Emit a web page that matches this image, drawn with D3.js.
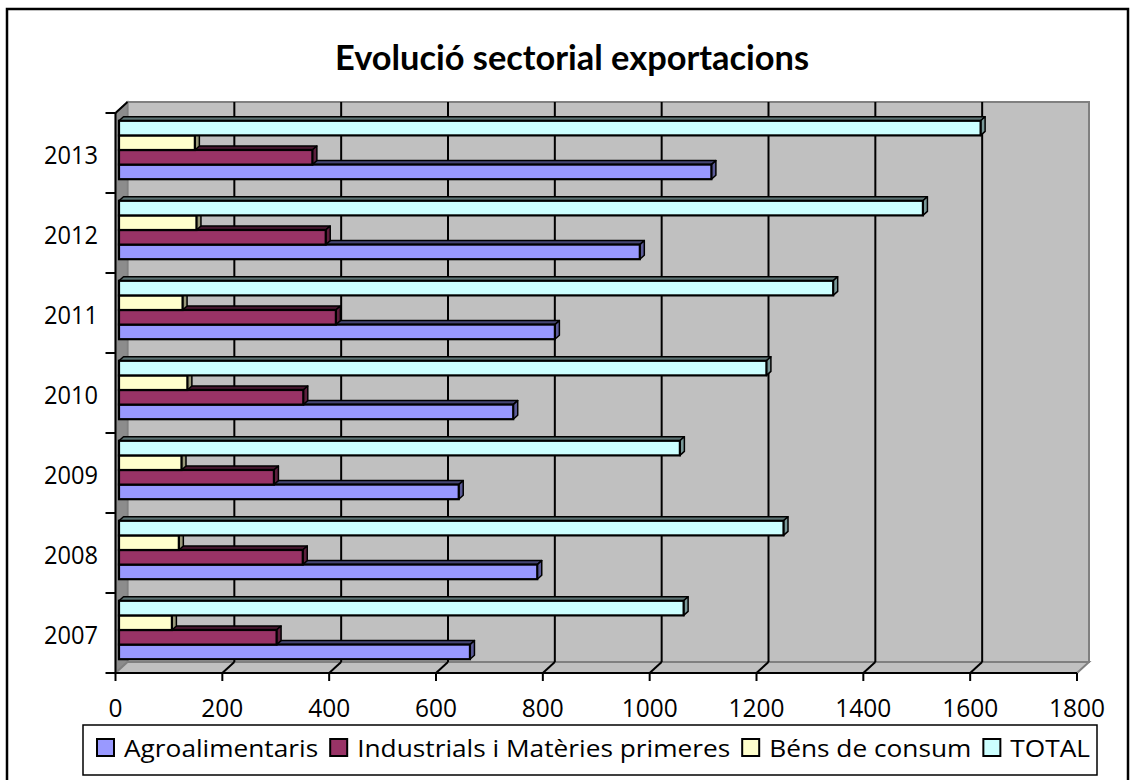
<!DOCTYPE html>
<html><head><meta charset="utf-8">
<script src="https://cdn.jsdelivr.net/npm/d3@7"></script>
<style>body{margin:0;background:#fff} svg{display:block} text{font-family:'Open Sans','Noto Sans',sans-serif;fill:#000} text.title{font-family:Lato,'Open Sans',sans-serif}</style>
</head><body><svg id="c" width="1132" height="780"></svg>
<script>
// ---- data ----
const years = ["2007","2008","2009","2010","2011","2012","2013"];
const seriesNames = ["Agroalimentaris","Industrials i Matèries primeres","Béns de consum","TOTAL"];
const agro        = [657, 783, 636, 738, 816, 975, 1109];
const industrials = [295, 344, 290, 345, 406, 387, 362];
const bens        = [ 99, 112, 117, 128, 119, 145, 142];
const total       = [1057,1244,1050,1212,1337,1505,1613];
const xTicks = [0,200,400,600,800,1000,1200,1400,1600,1800];
const titleText = "Evolució sectorial exportacions";
const seriesColors = ["#9999FF","#993366","#FFFFCC","#CCFFFF"];
const seriesValues = [agro, industrials, bens, total];

// ---- layout ----
const svg = d3.select("#c");
const front = {left:115.5, right:1077, top:113, bottom:673};
const D = {dx:12, dy:-11};       // wall depth
const B = {ox:3.5, oy:-3, dx:4.5, dy:-4}; // bar placement / depth

const x = d3.scaleLinear().domain([0,1800]).range([front.left, front.right]);
const y0 = d3.scaleBand().domain(years.slice().reverse()).range([front.top, front.bottom]).padding(0);
const y1 = d3.scaleBand().domain(seriesNames.slice().reverse()).range([0, y0.bandwidth()]).paddingInner(0).paddingOuter(0.74);

function fitW(sel, w){ sel.attr("textLength", w).attr("lengthAdjust","spacingAndGlyphs"); }

// outer frame
svg.append("rect").attr("x",7).attr("y",9).attr("width",1121).attr("height",790)
  .attr("fill","#fff").attr("stroke","#000").attr("stroke-width",2.5);

// title
const title = svg.append("text").attr("class","title").attr("x",572).attr("y",70).attr("text-anchor","middle")
  .attr("font-weight","bold").attr("font-size",35).text(titleText);
fitW(title, 474);

// walls
const bl = x(0)+D.dx, br = x(1800)+D.dx, bt = front.top+D.dy, bb = front.bottom+D.dy;
svg.append("rect").attr("x",bl).attr("y",bt).attr("width",br-bl).attr("height",bb-bt)
  .attr("fill","#C0C0C0").attr("stroke","#808080").attr("stroke-width",2);
svg.append("path").attr("d",`M${x(0)},${front.top}L${bl},${bt}L${bl},${bb}L${x(0)},${front.bottom}Z`)
  .attr("fill","#8C8C8C").attr("stroke","#808080").attr("stroke-width",1.5);
svg.append("path").attr("d",`M${x(0)},${front.bottom}L${bl},${bb}L${br},${bb}L${x(1800)},${front.bottom}Z`)
  .attr("fill","#C0C0C0").attr("stroke","#808080").attr("stroke-width",2);

// gridlines (back wall + floor)
const gt = xTicks.filter(t => t>0 && t<1800);
svg.append("g").selectAll("line").data(gt).join("line")
  .attr("x1",d=>x(d)+D.dx).attr("x2",d=>x(d)+D.dx).attr("y1",bt).attr("y2",bb)
  .attr("stroke","#000").attr("stroke-width",2);
svg.append("g").selectAll("line").data(gt).join("line")
  .attr("x1",d=>x(d)).attr("x2",d=>x(d)+D.dx).attr("y1",front.bottom).attr("y2",bb)
  .attr("stroke","#000").attr("stroke-width",2);

// axes lines
svg.append("line").attr("x1",x(0)).attr("x2",x(0)).attr("y1",front.top).attr("y2",front.bottom).attr("stroke","#000").attr("stroke-width",2);
svg.append("line").attr("x1",x(0)).attr("x2",bl).attr("y1",front.top).attr("y2",bt).attr("stroke","#000").attr("stroke-width",2);
svg.append("line").attr("x1",x(0)).attr("x2",x(1800)).attr("y1",front.bottom).attr("y2",front.bottom).attr("stroke","#000").attr("stroke-width",2);
svg.append("g").selectAll("line").data(xTicks).join("line")
  .attr("x1",d=>x(d)).attr("x2",d=>x(d)).attr("y1",front.bottom).attr("y2",front.bottom+8)
  .attr("stroke","#000").attr("stroke-width",2);
const yb = years.map(c=>y0(c)).concat([front.bottom]);
svg.append("g").selectAll("line").data(yb).join("line")
  .attr("x1",x(0)-10).attr("x2",x(0)).attr("y1",d=>d).attr("y2",d=>d)
  .attr("stroke","#000").attr("stroke-width",2);

// bars
function shade(c,k){const h=d3.rgb(c);return d3.rgb(h.r*k,h.g*k,h.b*k).toString();}
const barG = svg.append("g");
years.forEach((yr, yi) => {
  seriesNames.forEach((s, si) => {
    const v = seriesValues[si][yi];
    const x0 = x(0)+B.ox, x1 = x(v)+B.ox;
    const t = y0(yr)+y1(s)+B.oy, b = t+y1.bandwidth();
    const col = seriesColors[si];
    const g = barG.append("g");
    g.append("path").attr("d",`M${x0},${t}L${x0+B.dx},${t+B.dy}L${x1+B.dx},${t+B.dy}L${x1},${t}Z`)
      .attr("fill",shade(col,0.45)).attr("stroke","#000").attr("stroke-width",1.5).attr("stroke-linejoin","round");
    g.append("path").attr("d",`M${x1},${t}L${x1+B.dx},${t+B.dy}L${x1+B.dx},${b+B.dy}L${x1},${b}Z`)
      .attr("fill",shade(col,0.6)).attr("stroke","#000").attr("stroke-width",1.5).attr("stroke-linejoin","round");
    g.append("rect").attr("x",x0).attr("y",t).attr("width",x1-x0).attr("height",b-t)
      .attr("fill",col).attr("stroke","#000").attr("stroke-width",2.2);
  });
});

// axis labels
const axFs = 26;
svg.append("g").selectAll("text").data(xTicks).join("text")
  .attr("x",d=>x(d)).attr("y",717).attr("text-anchor","middle").attr("font-size",axFs).text(d=>d)
  .each(function(d){ fitW(d3.select(this), 14*String(d).length); });
svg.append("g").selectAll("text").data(years).join("text")
  .attr("x",98).attr("y",d=>y0(d)+y0.bandwidth()/2+11).attr("text-anchor","end").attr("font-size",axFs).text(d=>d)
  .each(function(){ fitW(d3.select(this), 54); });

// legend
const lg = svg.append("g");
lg.append("rect").attr("x",83).attr("y",725).attr("width",1014).attr("height",50)
  .attr("fill","#fff").attr("stroke","#000").attr("stroke-width",1.5);
const lt = lg.selectAll("text.l").data(seriesNames).join("text").attr("class","l")
  .attr("font-size",24.5).attr("y",757).text(d=>d);
const nat = []; lt.each(function(){ nat.push(this.getComputedTextLength()); });
const sw = 17, g1 = 10, g2 = 12, startX = 97, endX = 1090;
const avail = (endX-startX) - seriesNames.length*(sw+g1) - (seriesNames.length-1)*g2;
const k = avail / d3.sum(nat);
let cx = startX;
lt.each(function(d,i){
  lg.append("rect").attr("x",cx).attr("y",739).attr("width",sw).attr("height",sw)
    .attr("fill",seriesColors[i]).attr("stroke","#000").attr("stroke-width",2);
  const w = nat[i]*k;
  d3.select(this).attr("x",cx+sw+g1); fitW(d3.select(this), w);
  cx += sw + g1 + w + g2;
});
</script></body></html>
